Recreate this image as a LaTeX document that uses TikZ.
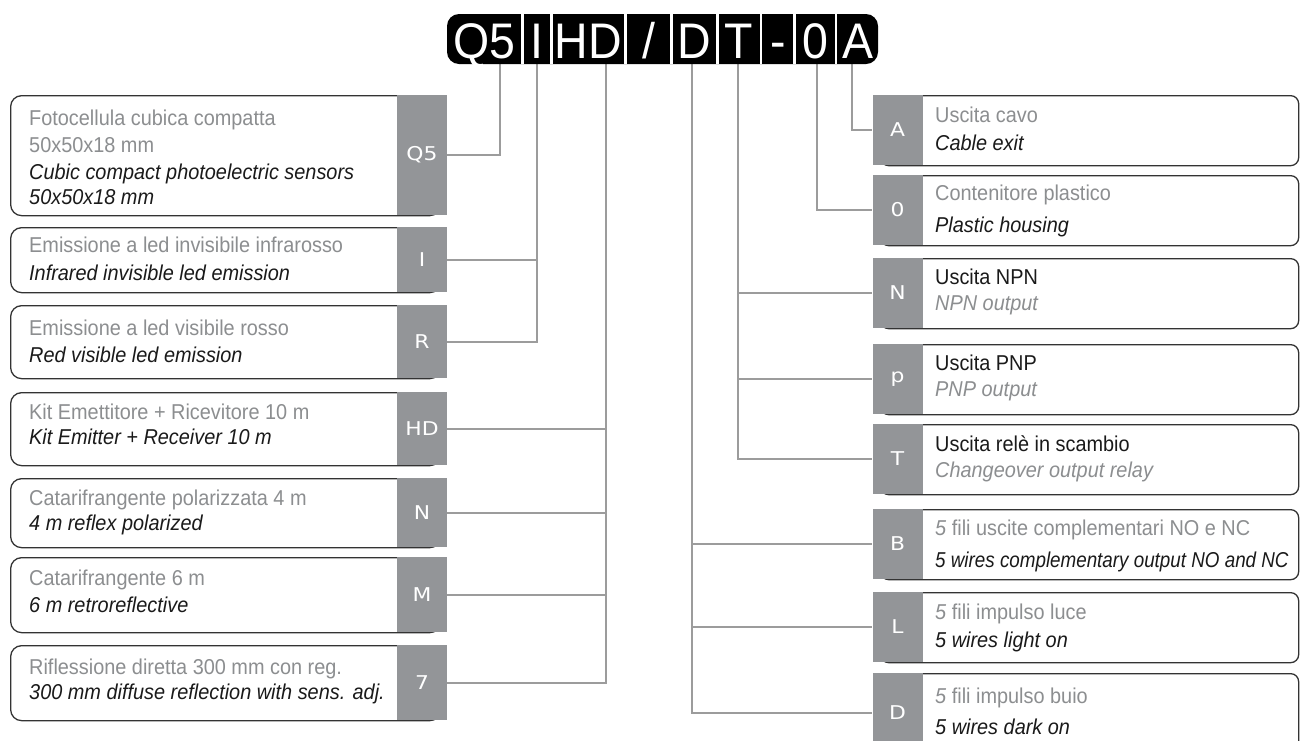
\documentclass[tikz,border=0pt]{standalone}
\usepackage{fontspec}
\setmainfont{Liberation Sans}[FakeStretch=0.925]
\newfontfamily\narrowfont{Liberation Sans}[FakeStretch=0.875]
\newfontfamily\hdrfont{Liberation Sans}[FakeStretch=0.93]
\newfontfamily\tabfont{DejaVu Sans}[FakeStretch=1.15]
\definecolor{tabgray}{HTML}{939598}
\definecolor{txtgray}{HTML}{8C8E90}
\definecolor{linegray}{HTML}{9C9C9C}
\definecolor{bordergray}{HTML}{333333}
\definecolor{txtblack}{HTML}{1A1A1A}
\begin{document}
\begin{tikzpicture}[x=1pt,y=-1pt,
  tabbox/.style={fill=tabgray, draw=none, minimum width=50pt, inner sep=0pt,
    font=\tabfont\fontsize{19}{19}\selectfont, text=white},
  lbox/.style={draw=bordergray, line width=1.3pt, fill=white, rounded corners=11pt,
    anchor=north west, inner sep=0pt},
  rbox/.style={draw=bordergray, line width=1.3pt, fill=white, rounded corners=8pt,
    anchor=north west, inner sep=0pt},
  conn/.style={draw=linegray, line width=2pt},
  gtxt/.style={anchor=base west, inner sep=0pt, text=txtgray, font=\fontsize{21.5}{21.5}\selectfont},
  gitxt/.style={anchor=base west, inner sep=0pt, text=txtgray, font=\fontsize{21.5}{21.5}\selectfont\itshape},
  btxt/.style={anchor=base west, inner sep=0pt, text=txtblack, font=\fontsize{21.5}{21.5}\selectfont},
  etxt/.style={anchor=base west, inner sep=0pt, text=txtblack, font=\fontsize{21.5}{21.5}\selectfont\itshape},
  netxt/.style={anchor=base west, inner sep=0pt, text=txtblack, font=\narrowfont\fontsize{21.5}{21.5}\selectfont\itshape},
  hcell/.style={anchor=base, text=white, inner sep=0pt, font=\hdrfont\fontsize{50}{50}\selectfont},
  sep/.style={draw=white, line width=2.2pt}
]
\useasboundingbox (0,0) rectangle (1300,740);
\fill[white] (0,0) rectangle (1300,740);

% connector anchor points under the header
\coordinate (cQ5) at (500,64);
\coordinate (cI)  at (537,64);
\coordinate (cHD) at (606,64);
\coordinate (cD)  at (692,64);
\coordinate (cT)  at (738,64);
\coordinate (c0)  at (817,64);
\coordinate (cA)  at (852,64);

% ---------- left boxes ----------
\node[lbox, minimum width=430pt, minimum height=120pt] (bQ5) at (10,95) {};
\node[lbox, minimum width=430pt, minimum height=65pt]  (bI)  at (10,227) {};
\node[lbox, minimum width=430pt, minimum height=73pt]  (bR)  at (10,305) {};
\node[lbox, minimum width=430pt, minimum height=73pt]  (bHD) at (10,392) {};
\node[lbox, minimum width=430pt, minimum height=69pt]  (bN)  at (10,478) {};
\node[lbox, minimum width=430pt, minimum height=75pt]  (bM)  at (10,557) {};
\node[lbox, minimum width=430pt, minimum height=75pt]  (b7)  at (10,645) {};

\node[tabbox, minimum height=120pt] (tQ5) at (422,155) {Q5};
\node[tabbox, minimum height=65pt]  (tI)  at (422,259.5) {I};
\node[tabbox, minimum height=73pt]  (tR)  at (422,341.5) {R};
\node[tabbox, minimum height=73pt]  (tHD) at (422,428.5) {HD};
\node[tabbox, minimum height=69pt]  (tN)  at (422,512.5) {N};
\node[tabbox, minimum height=75pt]  (tM)  at (422,594.5) {M};
\node[tabbox, minimum height=75pt]  (t7)  at (422,682.5) {7};

\node[gtxt] (l1a) at (29,125) {Fotocellula cubica compatta};
\node[gtxt] (l1b) at (29,152) {50x50x18 mm};
\node[etxt] (l1c) at (29,179) {Cubic compact photoelectric sensors};
\node[etxt] (l1d) at (29,204) {50x50x18 mm};
\node[gtxt] (l2a) at (29,252) {Emissione a led invisibile infrarosso};
\node[etxt] (l2b) at (29,280) {Infrared invisible led emission};
\node[gtxt] (l3a) at (29,335) {Emissione a led visibile rosso};
\node[etxt] (l3b) at (29,362) {Red visible led emission};
\node[gtxt] (l4a) at (29,419) {Kit Emettitore + Ricevitore 10 m};
\node[etxt] (l4b) at (29,444) {Kit Emitter + Receiver 10 m};
\node[gtxt] (l5a) at (29,505) {Catarifrangente polarizzata 4 m};
\node[etxt] (l5b) at (29,530) {4 m reflex polarized};
\node[gtxt] (l6a) at (29,585) {Catarifrangente 6 m};
\node[etxt] (l6b) at (29,612) {6 m retroreflective};
\node[gtxt] (l7a) at (29,674) {Riflessione diretta 300 mm con reg.};
\node[etxt] (l7b) at (29,699) {300 mm diffuse reflection with sens. adj.};

% ---------- right boxes ----------
\node[rbox, minimum width=418pt, minimum height=70pt] (bA)  at (880,95) {};
\node[rbox, minimum width=418pt, minimum height=70pt] (bO)  at (880,175) {};
\node[rbox, minimum width=418pt, minimum height=70pt] (bNN) at (880,258) {};
\node[rbox, minimum width=418pt, minimum height=70pt] (bP)  at (880,344) {};
\node[rbox, minimum width=418pt, minimum height=70pt] (bT)  at (880,424) {};
\node[rbox, minimum width=418pt, minimum height=70pt] (bB)  at (880,509) {};
\node[rbox, minimum width=418pt, minimum height=70pt] (bL)  at (880,592) {};
\node[rbox, minimum width=418pt, minimum height=80pt] (bDD) at (880,673) {};

\node[tabbox, minimum height=70pt] (tA)  at (897.5,130) {A};
\node[tabbox, minimum height=70pt] (tO)  at (897.5,210) {0};
\node[tabbox, minimum height=70pt] (tNN) at (897.5,293) {N};
\node[tabbox, minimum height=70pt] (tP)  at (897.5,379) {p};
\node[tabbox, minimum height=70pt] (tT)  at (897.5,459) {T};
\node[tabbox, minimum height=70pt] (tB)  at (897.5,544) {B};
\node[tabbox, minimum height=70pt] (tL)  at (897.5,627) {L};
\node[tabbox, minimum height=80pt] (tDD) at (897.5,713) {D};

\node[gtxt]  (rAa) at (935,122) {Uscita cavo};
\node[etxt]  (rAb) at (935,150) {Cable exit};
\node[gtxt]  (rOa) at (935,200) {Contenitore plastico};
\node[etxt]  (rOb) at (935,232) {Plastic housing};
\node[btxt]  (rNa) at (935,284) {Uscita NPN};
\node[gitxt] (rNb) at (935,310) {NPN output};
\node[btxt]  (rPa) at (935,370) {Uscita PNP};
\node[gitxt] (rPb) at (935,396) {PNP output};
\node[btxt]  (rTa) at (935,451) {Uscita relè in scambio};
\node[gitxt] (rTb) at (935,477) {Changeover output relay};
\node[gtxt]  (rBa) at (935,535) {\textit{5} fili uscite complementari NO e NC};
\node[netxt] (rBb) at (935,567) {5 wires complementary output NO and NC};
\node[gtxt]  (rLa) at (935,619) {\textit{5} fili impulso luce};
\node[etxt]  (rLb) at (935,647) {5 wires light on};
\node[gtxt]  (rDa) at (935,703) {\textit{5} fili impulso buio};
\node[etxt]  (rDb) at (935,734) {5 wires dark on};

% ---------- connectors ----------
\draw[conn] (cQ5) |- (tQ5.east);
\draw[conn] (cI)  |- (tI.east);
\draw[conn] (cI)  |- (tR.east);
\draw[conn] (cHD) |- (tHD.east);
\draw[conn] (cHD) |- (tN.east);
\draw[conn] (cHD) |- (tM.east);
\draw[conn] (cHD) |- (t7.east);
\draw[conn] (cA)  |- (tA.west);
\draw[conn] (c0)  |- (tO.west);
\draw[conn] (cT)  |- (tNN.west);
\draw[conn] (cT)  |- (tP.west);
\draw[conn] (cT)  |- (tT.west);
\draw[conn] (cD)  |- (tB.west);
\draw[conn] (cD)  |- (tL.west);
\draw[conn] (cD)  |- (tDD.west);

% ---------- header ----------
\node[fill=black, rounded corners=12pt, minimum width=431pt, minimum height=50pt, inner sep=0pt] (hdr) at (662.5,39) {};
\foreach \s in {522.5,551.5,625.5,671.5,717.5,761,794.5,836}
  \draw[sep] (\s,14) -- (\s,64);
\node[hcell] (hQ5) at (484.5,58) {Q5};
\node[hcell] (hI)  at (537,58) {I};
\node[hcell] (hHD) at (588.5,58) {HD};
\node[hcell] (hSl) at (648.5,58) {/};
\node[hcell] (hD)  at (694.5,58) {D};
\node[hcell] (hT)  at (739,58) {T};
\node[hcell] (hMi) at (778,58) {-};
\node[hcell] (h0)  at (815,58) {0};
\node[hcell] (hA)  at (857.5,58) {A};
\end{tikzpicture}
\end{document}
